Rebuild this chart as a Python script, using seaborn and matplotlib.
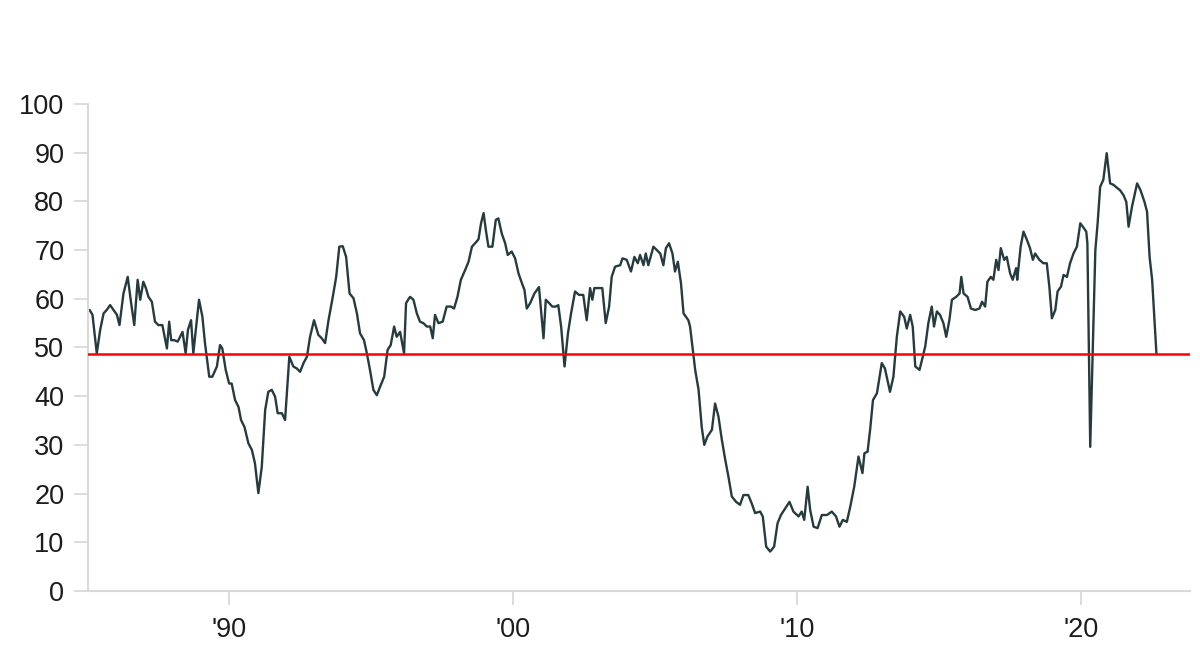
import matplotlib
matplotlib.use("Agg")
import matplotlib.pyplot as plt
import seaborn as sns
import pandas as pd

# ==============================
# Datos (años decimales, valor del índice)
# ==============================
fecha = [
    1985.08, 1985.18, 1985.33, 1985.45, 1985.57, 1985.68, 1985.80, 1985.92,
    1986.04, 1986.13, 1986.27, 1986.42, 1986.54, 1986.65, 1986.77, 1986.86,
    1986.97, 1987.06, 1987.15, 1987.27, 1987.38, 1987.50, 1987.64, 1987.80,
    1987.88, 1987.95, 1988.06, 1988.18, 1988.35, 1988.46, 1988.54, 1988.65,
    1988.73, 1988.85, 1988.93, 1989.05, 1989.14, 1989.29, 1989.40, 1989.56,
    1989.67, 1989.75, 1989.87, 1989.99, 1990.08, 1990.20, 1990.32, 1990.41,
    1990.53, 1990.67, 1990.79, 1990.90, 1991.02, 1991.14, 1991.26, 1991.37,
    1991.49, 1991.61, 1991.70, 1991.85, 1991.96,
    1992.11, 1992.25, 1992.37, 1992.49, 1992.61, 1992.73, 1992.84, 1992.98,
    1993.13, 1993.25, 1993.37, 1993.49, 1993.64, 1993.76, 1993.87, 1993.99,
    1994.11, 1994.23, 1994.37, 1994.49, 1994.60, 1994.74, 1994.84, 1994.95,
    1995.07, 1995.19, 1995.31, 1995.45, 1995.57, 1995.68, 1995.80, 1995.89,
    1996.01, 1996.15, 1996.22, 1996.36, 1996.48, 1996.60, 1996.71, 1996.83,
    1996.95, 1997.07, 1997.16, 1997.24, 1997.36, 1997.51, 1997.65, 1997.80,
    1997.91, 1998.03, 1998.15, 1998.30, 1998.42, 1998.54, 1998.65, 1998.77,
    1998.86, 1998.95, 1999.03, 1999.12, 1999.26, 1999.38, 1999.47, 1999.59,
    1999.71, 1999.80, 1999.94, 2000.06, 2000.18, 2000.30, 2000.39, 2000.47,
    2000.59, 2000.74, 2000.90, 2001.06, 2001.14, 2001.26, 2001.37, 2001.49,
    2001.58, 2001.68, 2001.80, 2001.92, 2002.03, 2002.17, 2002.31, 2002.46,
    2002.58, 2002.70, 2002.78, 2002.85, 2003.02, 2003.13, 2003.25, 2003.37,
    2003.46, 2003.58, 2003.76, 2003.84, 2003.99, 2004.14, 2004.26, 2004.38,
    2004.46, 2004.58, 2004.66, 2004.75, 2004.93, 2005.05, 2005.17, 2005.28,
    2005.37, 2005.48, 2005.60, 2005.69, 2005.79, 2005.90, 2005.99, 2006.16,
    2006.22, 2006.31, 2006.40, 2006.52, 2006.63, 2006.72, 2006.83, 2006.99,
    2007.10, 2007.22, 2007.34, 2007.46, 2007.57, 2007.69, 2007.84, 2007.98,
    2008.10, 2008.27, 2008.39, 2008.51, 2008.69, 2008.78, 2008.90, 2009.04,
    2009.18, 2009.30, 2009.42, 2009.53, 2009.72, 2009.86, 2010.04, 2010.15,
    2010.24, 2010.36, 2010.45, 2010.57, 2010.71, 2010.86, 2011.04, 2011.21,
    2011.36, 2011.48, 2011.60, 2011.74, 2011.86, 2012.00, 2012.15, 2012.29,
    2012.36, 2012.47, 2012.56, 2012.66, 2012.80, 2012.97,
    2013.08, 2013.26, 2013.38, 2013.50, 2013.62, 2013.76, 2013.85, 2013.97,
    2014.06, 2014.15, 2014.30, 2014.50, 2014.61, 2014.73, 2014.81, 2014.91,
    2015.02, 2015.14, 2015.24, 2015.35, 2015.44, 2015.59, 2015.71, 2015.77,
    2015.85, 2015.99, 2016.11, 2016.26, 2016.41, 2016.50, 2016.61, 2016.69,
    2016.81, 2016.90, 2017.00, 2017.08, 2017.16, 2017.28, 2017.37, 2017.49,
    2017.58, 2017.70, 2017.74, 2017.86, 2017.96, 2018.08, 2018.19, 2018.29,
    2018.37, 2018.52, 2018.66, 2018.78, 2018.87, 2018.96,
    2019.08, 2019.16, 2019.28, 2019.37, 2019.49, 2019.60, 2019.72, 2019.84,
    2019.96, 2020.05, 2020.17, 2020.21, 2020.31, 2020.49, 2020.57, 2020.66,
    2020.77, 2020.89, 2021.01, 2021.13, 2021.27, 2021.36, 2021.48, 2021.58,
    2021.66, 2021.78, 2021.96, 2022.08, 2022.22, 2022.31, 2022.40, 2022.49,
    2022.64,
]
valor = [
    57.7, 56.7, 48.8, 53.6, 57.0, 57.7, 58.7, 57.7,
    56.7, 54.6, 61.1, 64.5, 59.1, 54.6, 63.9, 59.8,
    63.5, 62.2, 60.4, 59.4, 55.3, 54.6, 54.6, 49.8,
    55.3, 51.5, 51.5, 51.2, 53.2, 48.8, 53.6, 55.6,
    48.8, 55.3, 59.8, 56.3, 50.9, 44.0, 44.0, 46.1,
    50.5, 49.8, 45.4, 42.6, 42.6, 39.2, 37.8, 35.1,
    33.7, 30.3, 29.0, 26.2, 20.1, 25.5, 37.2, 40.9,
    41.3, 39.9, 36.5, 36.5, 35.1,
    48.1, 46.1, 45.7, 45.0, 46.8, 48.1, 52.2, 55.6,
    52.6, 51.9, 50.9, 55.6, 60.4, 64.5, 70.7, 70.8,
    68.6, 61.1, 60.1, 57.0, 52.9, 51.5, 48.8, 45.4,
    41.3, 40.2, 42.0, 44.0, 49.5, 50.5, 54.3, 52.2,
    53.2, 48.8, 59.1, 60.4, 59.8, 57.0, 55.3, 55.0,
    54.3, 54.3, 51.9, 56.7, 55.0, 55.3, 58.4, 58.4,
    58.0, 60.4, 63.9, 65.9, 67.6, 70.7, 71.4, 72.2,
    75.5, 77.6, 74.1, 70.7, 70.7, 76.2, 76.5, 73.4,
    71.4, 69.0, 69.7, 68.3, 65.2, 63.2, 61.8, 58.0,
    59.1, 61.1, 62.4, 51.9, 59.8, 59.1, 58.4, 58.4,
    58.7, 54.3, 46.1, 52.9, 57.0, 61.5, 60.8, 60.8,
    55.6, 62.2, 59.8, 62.2, 62.2, 62.2, 55.0, 58.4,
    64.5, 66.6, 66.9, 68.3, 68.0, 65.6, 68.6, 67.3,
    69.0, 66.9, 69.3, 66.9, 70.7, 70.0, 69.3, 66.9,
    70.4, 71.4, 69.3, 65.6, 67.6, 63.2, 57.0, 55.6,
    54.3, 49.8, 45.4, 41.3, 33.7, 30.0, 31.7, 33.1,
    38.5, 35.8, 31.0, 26.9, 23.5, 19.4, 18.3, 17.7,
    19.7, 19.7, 18.0, 16.0, 16.3, 15.3, 9.1, 8.1,
    9.1, 13.9, 15.6, 16.6, 18.3, 16.3, 15.3, 16.3,
    14.6, 21.4, 16.6, 13.2, 12.9, 15.6, 15.6, 16.3,
    15.3, 13.2, 14.6, 14.2, 17.3, 21.4, 27.6, 24.2,
    28.3, 28.6, 33.1, 39.2, 40.6, 46.8,
    45.7, 40.9, 44.0, 52.2, 57.4, 56.3, 53.9, 56.7,
    54.3, 46.1, 45.4, 50.2, 55.0, 58.4, 54.3, 57.4,
    56.7, 55.0, 52.2, 55.6, 59.8, 60.4, 61.1, 64.5,
    61.1, 60.4, 58.0, 57.7, 58.0, 59.4, 58.4, 63.5,
    64.5, 63.9, 68.0, 65.9, 70.4, 68.0, 68.6, 65.2,
    63.9, 66.3, 63.9, 70.7, 73.8, 72.1, 70.4, 68.0,
    69.3, 68.0, 67.3, 67.3, 62.5, 56.0,
    57.7, 61.5, 62.5, 64.9, 64.5, 67.3, 69.3, 70.7,
    75.5, 74.8, 73.8, 71.4, 29.6, 70.0, 75.5, 83.0,
    84.4, 89.9, 83.7, 83.4, 82.7, 82.3, 81.3, 79.9,
    74.8, 78.9, 83.7, 82.3, 79.9, 77.9, 68.6, 63.9,
    48.8,
]
nivel_ref = 48.6

ticks_x = [1990, 2000, 2010, 2020]
etiquetas_x = ["'90", "'00", "'10", "'20"]
ticks_y = list(range(0, 101, 10))

df = pd.DataFrame({"fecha": fecha, "valor": valor})

# ==============================
# Gráfica
# ==============================
sns.set_theme(style="ticks")
plt.rcParams["font.family"] = ["Liberation Sans", "DejaVu Sans"]

fig = plt.figure(figsize=(12, 6.52), dpi=100)
ax = fig.add_axes([0.0733, 0.0936, 0.9183, 0.7469])

sns.lineplot(data=df, x="fecha", y="valor", ax=ax, color="#253b3e",
             linewidth=1.7, estimator=None)
ax.axhline(nivel_ref, color="#ff0000", linewidth=1.8, zorder=3)

ax.set_xlim(1985.02, 2023.82)
ax.set_ylim(0, 100)
ax.set_xticks(ticks_x)
ax.set_xticklabels(etiquetas_x)
ax.set_yticks(ticks_y)
ax.set_xlabel("")
ax.set_ylabel("")

for lado in ["top", "right"]:
    ax.spines[lado].set_visible(False)
for lado in ["left", "bottom"]:
    ax.spines[lado].set_color("#d9d9d9")
    ax.spines[lado].set_linewidth(1.5)

ax.tick_params(axis="both", length=10, width=1.3, color="#d9d9d9",
               labelsize=19.5, labelcolor="#1c1c1c", direction="out")
ax.tick_params(axis="y", pad=7)
ax.tick_params(axis="x", pad=9)

fig.savefig("out.png", dpi=100)
plt.close()
